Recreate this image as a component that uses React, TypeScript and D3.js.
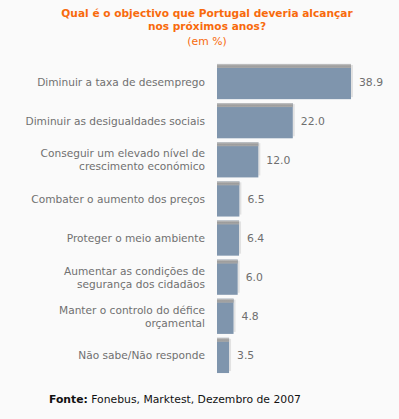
import React from 'react'
import * as d3 from 'd3'

const categories = [
  ['Diminuir a taxa de desemprego'],
  ['Diminuir as desigualdades sociais'],
  ['Conseguir um elevado nível de', 'crescimento económico'],
  ['Combater o aumento dos preços'],
  ['Proteger o meio ambiente'],
  ['Aumentar as condições de', 'segurança dos cidadãos'],
  ['Manter o controlo do défice', 'orçamental'],
  ['Não sabe/Não responde'],
]
const values = [38.9, 22.0, 12.0, 6.5, 6.4, 6.0, 4.8, 3.5]
const titleLines = ['Qual é o objectivo que Portugal deveria alcançar', 'nos próximos anos?']
const subtitle = '(em %)'
const sourceLabel = 'Fonte:'
const sourceText = ' Fonebus, Marktest, Dezembro de 2007'

const W = 399, H = 419
const font = 'DejaVu Sans, Verdana, sans-serif'

export default function App() {
  const ids = values.map((_, i) => i)
  const y = d3.scaleBand<number>().domain(ids).range([62, 375]).paddingInner(0.1).paddingOuter(0.05)
  const x = d3.scaleLinear().domain([0, 38.9]).range([217, 351])
  const bh = y.bandwidth()

  return (
    <div style={{ position: 'absolute', left: 0, top: 0 }}>
      <svg width={W} height={H} style={{ display: 'block', background: '#fafafa' }}>
        <defs>
          <linearGradient id="topShade" x1="0" y1="0" x2="0" y2="1">
            <stop offset="0" stopColor="#c8c8c8" />
            <stop offset="0.5" stopColor="#9c9c9c" />
            <stop offset="1" stopColor="#a9a9a9" />
          </linearGradient>
        </defs>
        {titleLines.map((t, i) => (
          <text key={t} x={207} y={17 + i * 13} textAnchor="middle" fill="#f86a0c"
            fontFamily={font} fontSize={10.6} fontWeight="bold">{t}</text>
        ))}
        <text x={207} y={45} textAnchor="middle" fill="#f86a0c" fontFamily={font} fontSize={10.8}>{subtitle}</text>

        {values.map((v, i) => {
          const top = y(i)!
          const x0 = x(0), x1 = x(v)
          const lines = categories[i]
          const cy = top + bh / 2
          return (
            <g key={i}>
              {/* shadow on right */}
              <rect x={x1} y={top + 1} width={2} height={bh - 3} fill="#e2e2e2" />
              <rect x={x0} y={top} width={x1 - x0} height={bh} fill="#7f95ad" />
              <rect x={x0} y={top} width={x1 - x0} height={4} fill="url(#topShade)" />
              <text x={x1 + 8} y={cy + 4} fill="#6e6e6e" fontFamily={font} fontSize={10.8}>{v.toFixed(1)}</text>
              {lines.map((l, j) => (
                <text key={j} x={205} y={cy + 4 + (j - (lines.length - 1) / 2) * 13}
                  textAnchor="end" fill="#707070" fontFamily={font} fontSize={10.6}>{l}</text>
              ))}
            </g>
          )
        })}

        <text x={49} y={403} fill="#111" fontFamily={font} fontSize={10.8}>
          <tspan fontWeight="bold">{sourceLabel}</tspan>
          <tspan>{sourceText}</tspan>
        </text>
      </svg>
    </div>
  )
}
